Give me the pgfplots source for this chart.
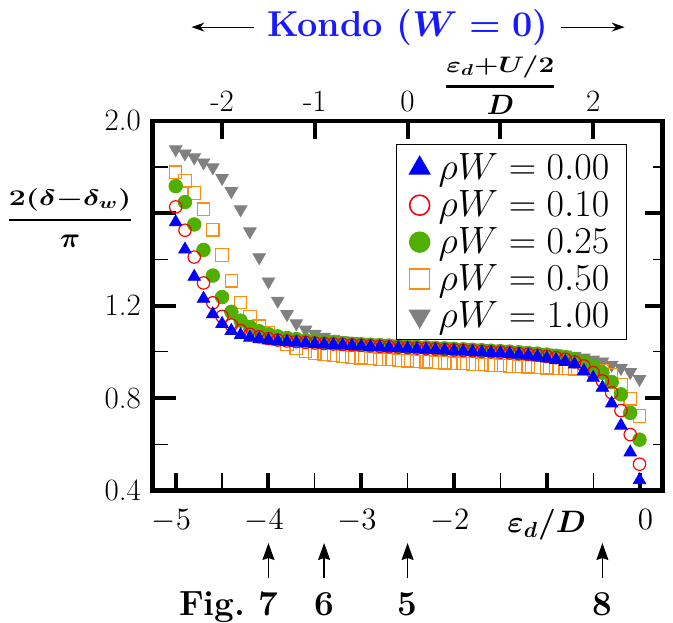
\RequirePackage{fix-cm}
\documentclass[border=0pt]{standalone}
\usepackage{amsmath}
\usepackage{graphicx}
\usepackage{pgfplots}
\usepackage{pgfplotstable}
\pgfplotsset{compat=1.18}
\usetikzlibrary{arrows.meta}
\definecolor{mblue}{RGB}{0,0,255}
\definecolor{mred}{RGB}{255,0,0}
\definecolor{mgreen}{RGB}{80,176,0}
\definecolor{morange}{RGB}{255,140,20}
\definecolor{mgray}{RGB}{128,128,128}
\definecolor{kblue}{RGB}{25,25,255}
\newcommand{\topfrac}{\raisebox{-1.5pt}[\height][\depth]{\fontsize{14}{16}\selectfont\boldmath$\genfrac{}{}{1.2pt}{0}{\scalebox{1.0}[0.8]{$\varepsilon_d{+}U/2$}}{D}$}}
\newcommand{\leftfrac}{\raisebox{-2.5pt}[\height][\depth]{\fontsize{14}{16}\selectfont\boldmath$\genfrac{}{}{1.3pt}{0}{\scalebox{1.08}[0.8]{$2(\delta{-}\delta_w)$}}{\pi}$\kern3.5pt}}
\newcommand{\botlab}{{\boldmath$\varepsilon_d/D$}}

\pgfplotstableread{
x w0 w10 w25 w50 w100
-5.0 1.561 1.627 1.717 1.777 1.876
-4.9 1.443 1.526 1.648 1.740 1.858
-4.8 1.325 1.410 1.551 1.687 1.841
-4.7 1.230 1.298 1.441 1.617 1.819
-4.6 1.163 1.212 1.330 1.528 1.798
-4.5 1.121 1.153 1.237 1.419 1.752
-4.4 1.091 1.116 1.173 1.307 1.695
-4.3 1.073 1.092 1.135 1.214 1.616
-4.2 1.062 1.076 1.108 1.151 1.521
-4.1 1.055 1.065 1.089 1.111 1.409
-4.0 1.050 1.057 1.076 1.083 1.304
-3.9 1.046 1.051 1.067 1.056 1.221
-3.8 1.043 1.047 1.060 1.033 1.163
-3.7 1.040 1.044 1.055 1.015 1.123
-3.6 1.037 1.041 1.050 1.003 1.096
-3.5 1.034 1.038 1.046 0.995 1.078
-3.4 1.032 1.036 1.043 0.990 1.065
-3.3 1.030 1.034 1.040 0.985 1.056
-3.2 1.028 1.032 1.038 0.981 1.050
-3.1 1.026 1.030 1.035 0.977 1.046
-3.0 1.024 1.028 1.033 0.974 1.043
-2.9 1.022 1.026 1.031 0.971 1.040
-2.8 1.020 1.024 1.029 0.968 1.038
-2.7 1.018 1.022 1.027 0.966 1.036
-2.6 1.016 1.020 1.025 0.963 1.034
-2.5 1.014 1.018 1.023 0.961 1.032
-2.4 1.012 1.016 1.021 0.959 1.030
-2.3 1.010 1.014 1.019 0.957 1.028
-2.2 1.008 1.012 1.017 0.955 1.026
-2.1 1.006 1.010 1.015 0.953 1.024
-2.0 1.004 1.008 1.013 0.951 1.022
-1.9 1.002 1.006 1.011 0.949 1.020
-1.8 1.000 1.004 1.009 0.947 1.018
-1.7 0.998 1.002 1.007 0.945 1.016
-1.6 0.996 1.000 1.005 0.943 1.014
-1.5 0.994 0.998 1.003 0.941 1.012
-1.4 0.991 0.995 1.001 0.939 1.009
-1.3 0.988 0.992 0.998 0.937 1.006
-1.2 0.984 0.989 0.995 0.935 1.003
-1.1 0.979 0.985 0.992 0.933 1.000
-1.0 0.972 0.980 0.988 0.931 0.997
-0.9 0.965 0.975 0.983 0.930 0.993
-0.8 0.957 0.968 0.977 0.928 0.988
-0.7 0.946 0.957 0.968 0.927 0.982
-0.6 0.917 0.939 0.957 0.926 0.975
-0.5 0.888 0.910 0.939 0.924 0.966
-0.4 0.845 0.874 0.910 0.918 0.958
-0.3 0.777 0.823 0.869 0.900 0.944
-0.2 0.681 0.746 0.816 0.859 0.930
-0.1 0.565 0.642 0.736 0.797 0.912
0.0 0.445 0.514 0.620 0.722 0.882
}\datatable

\pgfplotsset{
  base/.style={
    at={(76.25pt,-245.25pt)}, anchor=south west,
    scale only axis, width=255.1pt, height=184.9pt,
    xmin=-5.25, xmax=0.25, ymin=0.4, ymax=2.0,
    axis line style={line width=2.2pt, line cap=rect},
    major tick style={line width=2pt, black},
    minor tick style={line width=0.6pt, black},
    tick align=inside,
    ticklabel style={font=\fontsize{15.5}{18}\selectfont},
  },
}

\begin{document}
\begin{tikzpicture}
% right y ticks and top x ticks
\begin{axis}[base,
  xtick={-4.5,-3.5,-2.5,-1.5,-0.5},
  xticklabels={-2,-1,0,\topfrac,2},
  xtick pos=right, xticklabel pos=right,
  ytick={0.4,0.8,1.2,1.6,2.0}, yticklabels={},
  minor ytick={0.6,1.0,1.4,1.8},
  ytick pos=right,
  major tick length=9pt, minor tick length=5pt,
  xticklabel style={yshift=1pt},
]
\end{axis}
% left y ticks
\begin{axis}[base,
  xtick=\empty,
  ytick={0.4,0.8,1.2,1.6,2.0},
  yticklabels={0.4,0.8,1.2,\leftfrac,2.0},
  minor ytick={0.6,1.0,1.4,1.8},
  ytick pos=left, yticklabel pos=left,
  major tick length=11.5pt, minor tick length=7.5pt,
  yticklabel style={xshift=-2.3pt},
]
\end{axis}
% data axis
\begin{axis}[base,
  clip=false,
  xtick={-5,-4,-3,-2,-1,0},
  xticklabels={\kern-4.3pt$-5$,\kern-4.3pt$-4$,\kern-4.3pt$-3$,\kern-4.3pt$-2$,\botlab,\kern6pt$0$},
  minor xtick={-4.5,-3.5,-2.5,-1.5,-0.5},
  xtick pos=left, xticklabel pos=left,
  ytick=\empty,
  major tick length=9pt, minor tick length=9pt,
  xticklabel style={yshift=-6pt},
  legend cell align=left,
  legend style={at={(0.930,0.937)}, anchor=north east, draw=black, line width=0.7pt,
    font=\fontsize{19}{22}\selectfont, inner xsep=6.5pt, inner ysep=2.5pt,
    row sep=0pt, column sep=2.5pt},
]
\addlegendimage{only marks, mark=triangle*, mark size=5.8pt, color=mblue}
\addlegendentry{$\rho W = 0.00$}
\addlegendimage{only marks, mark=o, mark size=5pt, color=mred, mark options={line width=0.8pt}}
\addlegendentry{$\rho W = 0.10$}
\addlegendimage{only marks, mark=*, mark size=5pt, color=mgreen}
\addlegendentry{$\rho W = 0.25$}
\addlegendimage{only marks, mark=square, mark size=5pt, color=morange, mark options={line width=0.8pt}}
\addlegendentry{$\rho W = 0.50$}
\addlegendimage{only marks, mark=triangle*, mark size=5.8pt, color=mgray, mark options={rotate=180}}
\addlegendentry{$\rho W = 1.00$}

\addplot[forget plot, only marks, mark=triangle*, mark size=3.6pt, color=mgray, mark options={rotate=180}] table[x=x, y=w100] {\datatable};
\addplot[forget plot, only marks, mark=square, mark size=3.1pt, color=morange, mark options={line width=0.6pt}] table[x=x, y=w50] {\datatable};
\addplot[forget plot, only marks, mark=*, mark size=3.4pt, color=mgreen] table[x=x, y=w25] {\datatable};
\addplot[forget plot, only marks, mark=o, mark size=3.1pt, color=mred, mark options={line width=0.6pt}] table[x=x, y=w10] {\datatable};
\addplot[forget plot, only marks, mark=triangle*, mark size=3.6pt, color=mblue] table[x=x, y=w0] {\datatable};

% annotations
\node[font=\fontsize{18}{20}\selectfont\bfseries, text=kblue] at (axis cs:-2.5,2.403) {Kondo ({\boldmath$W=0$})};
\draw[-{Stealth[length=6.5pt,width=4.5pt]}, line width=0.6pt] (axis cs:-4.16,2.405) -- (axis cs:-4.83,2.405);
\draw[-{Stealth[length=6.5pt,width=4.5pt]}, line width=0.6pt] (axis cs:-0.85,2.405) -- (axis cs:-0.16,2.405);
\draw[-{Stealth[length=8.5pt,width=6pt,inset=1pt]}, line width=0.7pt] (axis cs:-4.0,0.0214) -- (axis cs:-4.0,0.173);
\draw[-{Stealth[length=8.5pt,width=6pt,inset=1pt]}, line width=0.7pt] (axis cs:-3.4,0.0214) -- (axis cs:-3.4,0.173);
\draw[-{Stealth[length=8.5pt,width=6pt,inset=1pt]}, line width=0.7pt] (axis cs:-2.5,0.0214) -- (axis cs:-2.5,0.173);
\draw[-{Stealth[length=8.5pt,width=6pt,inset=1pt]}, line width=0.7pt] (axis cs:-0.4,0.0214) -- (axis cs:-0.4,0.173);
\node[anchor=base, font=\fontsize{17.5}{20}\selectfont\bfseries] at (axis cs:-4.0,-0.139) {\llap{Fig.\ }7};
\node[anchor=base, font=\fontsize{17.5}{20}\selectfont\bfseries] at (axis cs:-3.4,-0.139) {6};
\node[anchor=base, font=\fontsize{17.5}{20}\selectfont\bfseries] at (axis cs:-2.5,-0.139) {5};
\node[anchor=base, font=\fontsize{17.5}{20}\selectfont\bfseries] at (axis cs:-0.4,-0.139) {8};
\end{axis}
\pgfresetboundingbox
\path[use as bounding box] (0pt,0pt) rectangle (336.5pt,-311pt);
\end{tikzpicture}
\end{document}
